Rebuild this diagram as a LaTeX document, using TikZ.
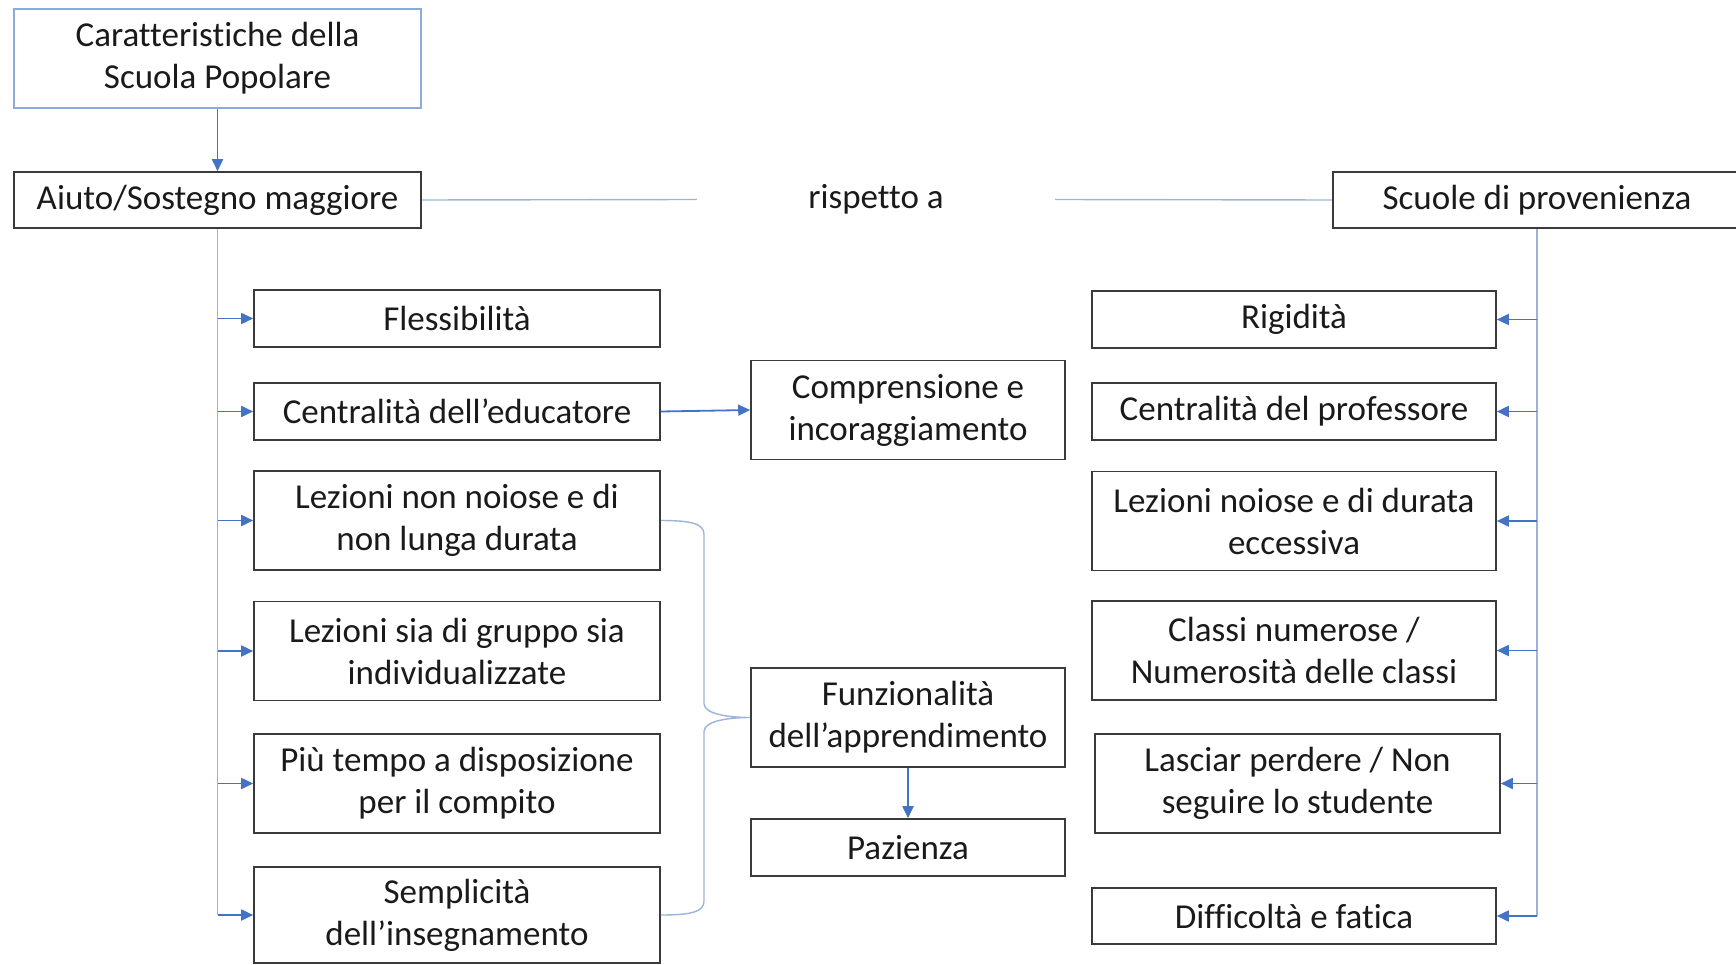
\documentclass[tikz,border=0pt]{standalone}
\usepackage{fontspec}
\setmainfont{Carlito}[Ligatures=NoCommon]
\usetikzlibrary{arrows.meta,calc}
\definecolor{trunkc}{HTML}{9DB3DB}
\definecolor{arrc}{HTML}{4472C4}
\definecolor{bordc}{HTML}{3A3A3A}
\definecolor{topc}{HTML}{8EAADB}
\definecolor{txtc}{HTML}{1A1A1A}
\begin{document}
\begin{tikzpicture}[x=1pt,y=-1pt,
  box/.style={draw=bordc, line width=1.6pt, inner sep=0pt, align=center,
    text=txtc, font=\fontsize{35}{42}\selectfont},
  one/.style={box, minimum height=57pt},
  two/.style={box, minimum height=99pt},
  lcol/.style={minimum width=406pt},
  ccol/.style={minimum width=314pt},
  rcol/.style={minimum width=404pt},
  trunk/.style={draw=trunkc, line width=1.4pt},
  arrow/.style={draw=arrc, line width=1.8pt, -{Triangle[length=12pt,width=11pt]}, arrc},
  brace/.style={draw=trunkc, line width=1.4pt}
]
\clip (0,0) rectangle (1736,965);
\fill[white] (0,0) rectangle (1736,965);

\node[box, draw=topc, minimum width=407pt, minimum height=99pt] (top) at (217.5,58.5) {Caratteristiche della\\Scuola Popolare};
\node[box, minimum width=407pt, minimum height=56pt] (aiuto) at (217.5,200) {Aiuto/Sostegno maggiore};
\node[inner sep=0pt, minimum width=358pt, minimum height=40pt, text=txtc, font=\fontsize{35}{42}\selectfont] (risp) at (876,199.5) {rispetto a};
\node[box, minimum width=408pt, minimum height=56pt] (scuole) at (1537,200) {Scuole di provenienza};

\node[one, lcol] (L1) at (457,318.5) {Flessibilità};
\node[one, lcol] (L2) at (457,411.5) {Centralità dell’educatore};
\node[two, lcol] (L3) at (457,520.5) {Lezioni non noiose e di\\non lunga durata};
\node[two, lcol] (L4) at (457,651) {Lezioni sia di gruppo sia\\individualizzate};
\node[two, lcol] (L5) at (457,783.5) {Più tempo a disposizione\\per il compito};
\node[box, lcol, minimum height=96pt] (L6) at (457,915) {Semplicità\\dell’insegnamento};

\node[two, ccol] (C1) at (908,410) {Comprensione e\\incoraggiamento};
\node[two, ccol] (C2) at (908,717.5) {Funzionalità\\dell’apprendimento};
\node[one, ccol] (C3) at (908,847.5) {Pazienza};

\node[one, rcol] (R1) at (1294,319.5) {Rigidità};
\node[one, rcol] (R2) at (1294,411.5) {Centralità del professore};
\node[two, rcol] (R3) at (1294,521) {Lezioni noiose e di durata\\eccessiva};
\node[two, rcol] (R4) at (1294,650.5) {Classi numerose /\\Numerosità delle classi};
\node[two, minimum width=405pt] (R5) at (1297.5,783.5) {Lasciar perdere / Non\\seguire lo studente};
\node[box, rcol, minimum height=56pt] (R6) at (1294,916) {Difficoltà e fatica};

% top arrow
\draw[arrow] (top.south) -- (aiuto.north);
% rispetto lines
\draw[trunk] (aiuto.east) -- (risp.west);
\draw[trunk] (risp.east) -- (scuole.west);

% left trunk
\draw[trunk] (aiuto.south) -- (aiuto.south |- L6.west);
\foreach \n in {L1,L2,L3,L4,L5,L6}
  \draw[arrow] (aiuto.south |- \n.west) -- (\n.west);

% right trunk
\draw[trunk] (scuole.south) -- (scuole.south |- R6.east);
\foreach \n in {R1,R2,R3,R4,R5,R6}
  \draw[arrow] (scuole.south |- \n.east) -- (\n.east);

% centre arrows
\draw[arrow] (L2.east) -- (C1.west);
\draw[arrow] (C2.south) -- (C3.north);

% brace
\coordinate (bx) at (704,0);
\draw[brace] (L3.east) .. controls +(30,0) and +(0,-11) .. ($(L3.east -| bx)+(0,14)$)
  -- ($(C2.west -| bx)+(0,-14)$) .. controls +(0,11) and +(-20,0) .. (C2.west)
  .. controls +(-20,0) and +(0,-11) .. ($(C2.west -| bx)+(0,14)$)
  -- ($(L6.east -| bx)+(0,-14)$) .. controls +(0,11) and +(30,0) .. (L6.east);
\end{tikzpicture}
\end{document}
